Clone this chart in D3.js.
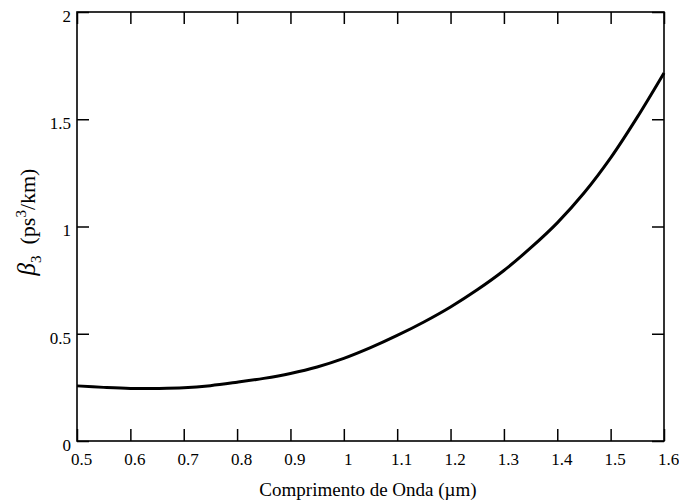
<!DOCTYPE html>
<html>
<head>
<meta charset="utf-8">
<script src="https://cdn.jsdelivr.net/npm/d3@7"></script>
<style>
  html, body { margin: 0; padding: 0; background: #fff; }
  svg { display: block; }
  text { font-family: "Liberation Serif", "Times New Roman", serif; fill: #000; }
</style>
</head>
<body>
<script>
// Third-order dispersion of silica fibre vs. wavelength
const wavelength = [0.50, 0.55, 0.60, 0.65, 0.70, 0.75, 0.80, 0.85, 0.90, 0.95,
                    1.00, 1.05, 1.10, 1.15, 1.20, 1.25, 1.30, 1.35, 1.40, 1.45,
                    1.50, 1.55, 1.60];
const beta3 = [0.257, 0.250, 0.245, 0.245, 0.248, 0.258, 0.274, 0.292, 0.315, 0.345,
               0.385, 0.435, 0.492, 0.555, 0.625, 0.705, 0.795, 0.900, 1.017, 1.156,
               1.320, 1.510, 1.716];

const xTicks = [0.5, 0.6, 0.7, 0.8, 0.9, 1.0, 1.1, 1.2, 1.3, 1.4, 1.5, 1.6];
const xTickLabels = ["0.5", "0.6", "0.7", "0.8", "0.9", "1", "1.1", "1.2", "1.3", "1.4", "1.5", "1.6"];
const yTicks = [0, 0.5, 1, 1.5, 2];
const yTickLabels = ["0", "0.5", "1", "1.5", "2"];

const W = 679, H = 502;
const m = { left: 77, right: 15, top: 12, bottom: 61 };

const svg = d3.select("body").append("svg")
  .attr("width", W).attr("height", H);

const x = d3.scaleLinear().domain([0.5, 1.6]).range([m.left, W - m.right]);
const y = d3.scaleLinear().domain([0, 2]).range([H - m.bottom, m.top]);

const tickLen = 12;

function styleAxis(g) {
  g.select(".domain").remove();
  g.attr("font-family", null).attr("font-size", null);
  g.selectAll(".tick line").attr("stroke", "#000").attr("stroke-width", 1.5);
}

// bottom axis with labels
svg.append("g")
  .attr("transform", `translate(0,${y(0)})`)
  .call(d3.axisBottom(x).tickValues(xTicks).tickSizeInner(-tickLen).tickSizeOuter(0)
    .tickFormat((d, i) => xTickLabels[i]))
  .call(styleAxis)
  .call(g => g.selectAll(".tick text")
    .attr("y", 24).attr("dy", 0).attr("dx", 4)
    .style("font-size", "17px"));

// top axis, ticks only
svg.append("g")
  .attr("transform", `translate(0,${y(2)})`)
  .call(d3.axisTop(x).tickValues(xTicks).tickSizeInner(-tickLen).tickSizeOuter(0).tickFormat(""))
  .call(styleAxis);

// left axis with labels
svg.append("g")
  .attr("transform", `translate(${x(0.5)},0)`)
  .call(d3.axisLeft(y).tickValues(yTicks).tickSizeInner(-tickLen).tickSizeOuter(0)
    .tickFormat((d, i) => yTickLabels[i]))
  .call(styleAxis)
  .call(g => g.selectAll(".tick text")
    .attr("x", -6).attr("dy", "0.55em")
    .style("font-size", "17px"));

// right axis, ticks only
svg.append("g")
  .attr("transform", `translate(${x(1.6)},0)`)
  .call(d3.axisRight(y).tickValues(yTicks).tickSizeInner(-tickLen).tickSizeOuter(0).tickFormat(""))
  .call(styleAxis);

// frame
svg.append("rect")
  .attr("x", x(0.5)).attr("y", y(2))
  .attr("width", x(1.6) - x(0.5)).attr("height", y(0) - y(2))
  .attr("fill", "none").attr("stroke", "#000").attr("stroke-width", 1.6);

// curve
const line = d3.line()
  .x((d, i) => x(wavelength[i]))
  .y(d => y(d))
  .curve(d3.curveCatmullRom);

svg.append("path")
  .datum(beta3)
  .attr("d", line)
  .attr("fill", "none")
  .attr("stroke", "#000")
  .attr("stroke-width", 3)
  .attr("stroke-linejoin", "round");

// axis titles
svg.append("text")
  .attr("x", 368).attr("y", 496)
  .attr("text-anchor", "middle")
  .style("font-size", "19px")
  .text("Comprimento de Onda (\u00b5m)");

const yl = svg.append("text")
  .attr("transform", "translate(35,222) rotate(-90)")
  .attr("text-anchor", "middle")
  .style("font-size", "22px");
yl.append("tspan").style("font-style", "italic").style("font-size", "25px").text("\u03b2");
yl.append("tspan").attr("dy", 6).style("font-size", "15px").text("3");
yl.append("tspan").attr("dy", -6).text("\u2002(ps");
yl.append("tspan").attr("dy", -9).style("font-size", "15px").text("3");
yl.append("tspan").attr("dy", 9).text("/km)");
</script>
</body>
</html>
